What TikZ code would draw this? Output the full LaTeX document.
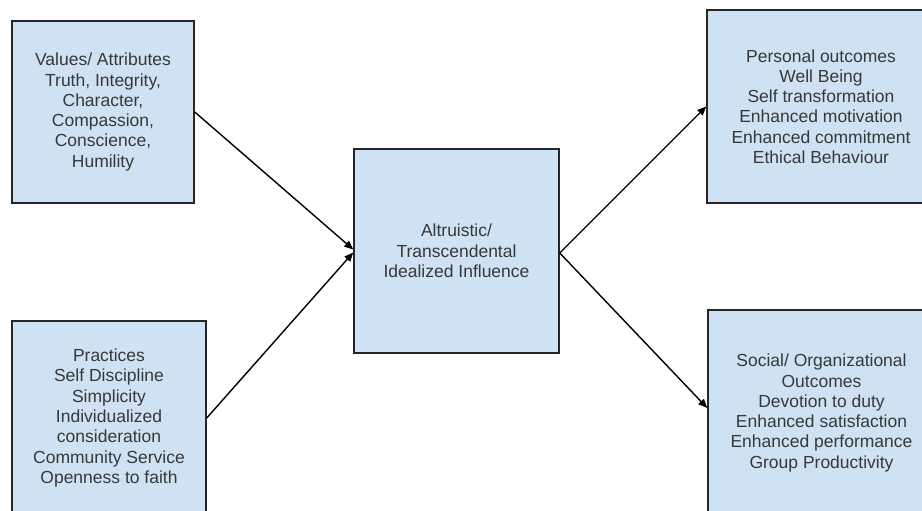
\documentclass[tikz,border=0pt]{standalone}
\usepackage{fontspec}
\setmainfont{Liberation Sans}
\usetikzlibrary{arrows.meta}
\definecolor{boxfill}{HTML}{CFE2F3}
\definecolor{boxline}{HTML}{262626}
\definecolor{txt}{HTML}{383838}
\begin{document}
\begin{tikzpicture}[x=1pt,y=-1pt,
  box/.style={draw=boxline,line width=1.5pt,fill=boxfill,align=center,
    text=txt,font=\fontsize{17.5}{20.3}\selectfont,inner sep=0pt},
  conn/.style={line width=1.4pt,-{Triangle[length=9pt,width=7.5pt]}}]
\useasboundingbox (0,0) rectangle (922,511);
\clip (0,0) rectangle (922,511);
\fill[white] (0,0) rectangle (922,511);
\node[box,minimum width=182pt,minimum height=182pt] (tl) at (103,112)
  {Values/ Attributes\\Truth, Integrity,\\Character,\\Compassion,\\Conscience,\\Humility};
\node[box,minimum width=194pt,minimum height=194pt] (bl) at (109,418)
  {Practices\\Self Discipline\\Simplicity\\Individualized\\consideration\\Community Service\\Openness to faith};
\node[box,minimum width=205pt,minimum height=204pt] (c) at (456.5,251)
  {Altruistic/\\Transcendental\\Idealized Influence};
\node[box,minimum width=228pt,minimum height=193pt] (tr) at (821,106.5)
  {Personal outcomes\\Well Being\\Self transformation\\Enhanced motivation\\Enhanced commitment\\Ethical Behaviour};
\node[box,minimum width=227pt,minimum height=206pt] (br) at (821.5,413)
  {Social/ Organizational\\Outcomes\\Devotion to duty\\Enhanced satisfaction\\Enhanced performance\\Group Productivity};
\draw[conn] (tl.east) -- ([yshift=1.5pt]c.west);
\draw[conn] (bl.east) -- ([yshift=-1.5pt]c.west);
\draw[conn] ([yshift=-2pt]c.east) -- (tr.west);
\draw[conn] ([yshift=-2pt]c.east) -- ([yshift=5pt]br.west);
\end{tikzpicture}
\end{document}
